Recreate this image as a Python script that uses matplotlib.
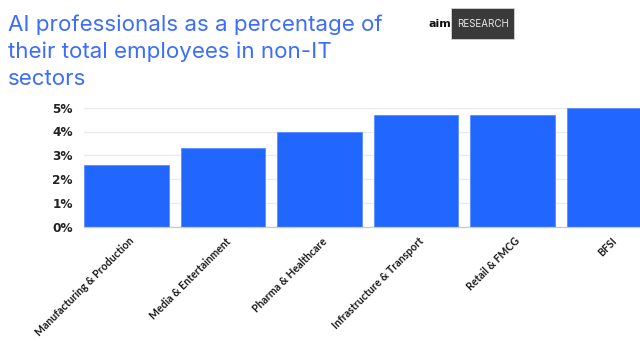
import matplotlib
matplotlib.use("Agg")
import matplotlib.pyplot as plt
import matplotlib.transforms as mtransforms
from matplotlib.patches import Rectangle
from matplotlib.ticker import FuncFormatter

sectors = ["Manufacturing & Production", "Media & Entertainment", "Pharma & Healthcare",
           "Infrastructure & Transport", "Retail & FMCG", "BFSI"]
ai_share = [2.6, 3.3, 4.0, 4.7, 4.7, 5.0]
y_ticks = [0, 1, 2, 3, 4, 5]

W, H = 640, 341
fig = plt.figure(figsize=(W / 100, H / 100), dpi=100)
fig.patch.set_facecolor("white")

# Axes placed in pixel terms
left, right, top, bottom = 84, 640, 107.7, 226.7
ax = fig.add_axes([left / W, 1 - bottom / H, (right - left) / W, (bottom - top) / H])

bar_w = 0.88
slot_px = 96.5
x = list(range(len(sectors)))
ax.bar(x, ai_share, width=bar_w, color="#2166ff", edgecolor="#5a8cff", linewidth=0.6, zorder=3)

ax.set_xlim(-bar_w / 2, -bar_w / 2 + (right - left) / slot_px)
ax.set_ylim(0, 5)
ax.set_yticks(y_ticks)
ax.yaxis.set_major_formatter(FuncFormatter(lambda v, p: f"{v:.0f}%"))
ax.grid(axis="y", color="#ebebeb", linewidth=0.9, zorder=0)
for s in ["top", "right", "left"]:
    ax.spines[s].set_visible(False)
ax.spines["bottom"].set_color("#c8c8c8")
ax.spines["bottom"].set_linewidth(0.9)
ax.spines["bottom"].set_zorder(4)
ax.tick_params(axis="both", length=0)
ax.tick_params(axis="y", pad=8)
for lab in ax.get_yticklabels():
    lab.set_fontsize(8.7)
    lab.set_fontweight("bold")
    lab.set_color("#222222")
    lab.set_family("DejaVu Sans")

ax.set_xticks(x)
ax.set_xticklabels(sectors, rotation=45, ha="right", va="top", rotation_mode="anchor",
                   fontsize=7.6, fontweight="bold", color="#1a1a1a", family="Lato")
offset = mtransforms.ScaledTranslation(2 / 100, -4 / 100, fig.dpi_scale_trans)
for lab in ax.get_xticklabels():
    lab.set_transform(lab.get_transform() + offset)

# Title
title_lines = ["AI professionals as a percentage of",
               "their total employees in non-IT",
               "sectors"]
for i, line in enumerate(title_lines):
    fig.text(8 / W, 1 - (31 + 27 * i) / H, line, fontsize=16.1, color="#3d6dfa",
             family="Inter", fontweight="normal", ha="left", va="baseline")

# Brand badge
fig.patches.append(Rectangle((451 / W, 1 - 39 / H), 63 / W, 31 / H,
                             transform=fig.transFigure, facecolor="#3a3a3a",
                             edgecolor="#dddddd", linewidth=0.5))
fig.text(482.5 / W, 1 - 24 / H, "RESEARCH", fontsize=7, color="#e8e8e8",
         family="Inter", ha="center", va="center")
fig.text(440 / W, 1 - 24 / H, "aim", fontsize=8, color="#111111",
         family="DejaVu Sans", fontweight="bold", ha="center", va="center")

fig.savefig("out.png", dpi=100, facecolor="white")
